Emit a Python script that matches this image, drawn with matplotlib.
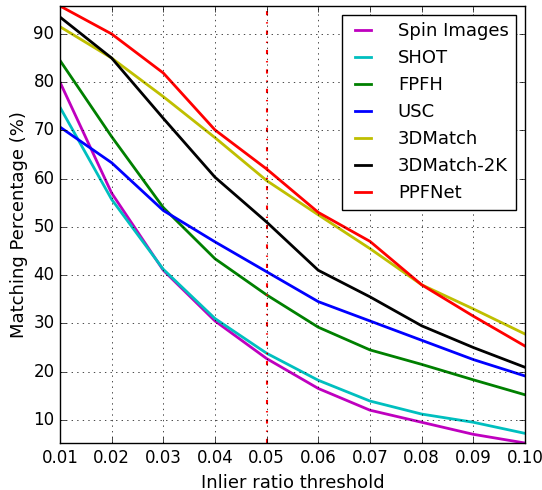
import numpy as np
import matplotlib
matplotlib.use('Agg')
import matplotlib.pyplot as plt

plt.style.use('classic')

# Umbrales de razón de inliers
thresholds = [0.01, 0.02, 0.03, 0.04, 0.05, 0.06, 0.07, 0.08, 0.09, 0.10]

# Porcentajes de correspondencia por método
spin_images = [80.0, 57.0, 41.0, 30.5, 22.7, 16.5, 12.0, 9.5, 7.0, 5.2]
shot = [74.8, 55.7, 41.2, 31.0, 23.8, 18.2, 13.9, 11.2, 9.5, 7.2]
fpfh = [84.5, 68.7, 54.0, 43.4, 35.9, 29.2, 24.5, 21.5, 18.3, 15.2]
usc = [70.7, 63.3, 53.4, 46.9, 40.7, 34.5, 30.5, 26.5, 22.5, 19.1]
match3d = [91.5, 85.0, 77.0, 68.5, 59.6, 52.5, 45.5, 38.0, 33.0, 27.8]
match3d_2k = [93.5, 85.0, 72.5, 60.3, 51.0, 41.0, 35.5, 29.5, 25.0, 20.9]
ppfnet = [95.8, 90.0, 81.9, 70.1, 62.0, 53.0, 47.0, 38.0, 31.5, 25.3]

series = [
    ('Spin Images', spin_images, 'm'),
    ('SHOT', shot, 'c'),
    ('FPFH', fpfh, 'g'),
    ('USC', usc, 'b'),
    ('3DMatch', match3d, 'y'),
    ('3DMatch-2K', match3d_2k, 'k'),
    ('PPFNet', ppfnet, 'r'),
]

fig = plt.figure(figsize=(5.42, 4.9), dpi=100, facecolor='white')
ax = fig.add_axes([0.1107, 0.0959, 0.8579, 0.8919])

for name, vals, col in series:
    ax.plot(thresholds, vals, color=col, linewidth=2, label=name)

ax.axvline(0.05, color='r', linestyle='-.', linewidth=1.5)

ax.set_xlim(0.01, 0.10)
ax.set_ylim(min(spin_images), max(ppfnet))
ax.set_xticks(thresholds)
ax.set_xticklabels(['%.2f' % t for t in thresholds])
ax.set_yticks(np.arange(10, 100, 10))
ax.tick_params(labelsize=12)
ax.grid(True)

ax.set_xlabel('Inlier ratio threshold', fontsize=13)
ax.set_ylabel('Matching Percentage (%)', fontsize=13, labelpad=4)
ax.legend(loc='upper right', fontsize=13, handlelength=1.5, handletextpad=1.2)

fig.savefig('out.png', dpi=100, facecolor='white')
